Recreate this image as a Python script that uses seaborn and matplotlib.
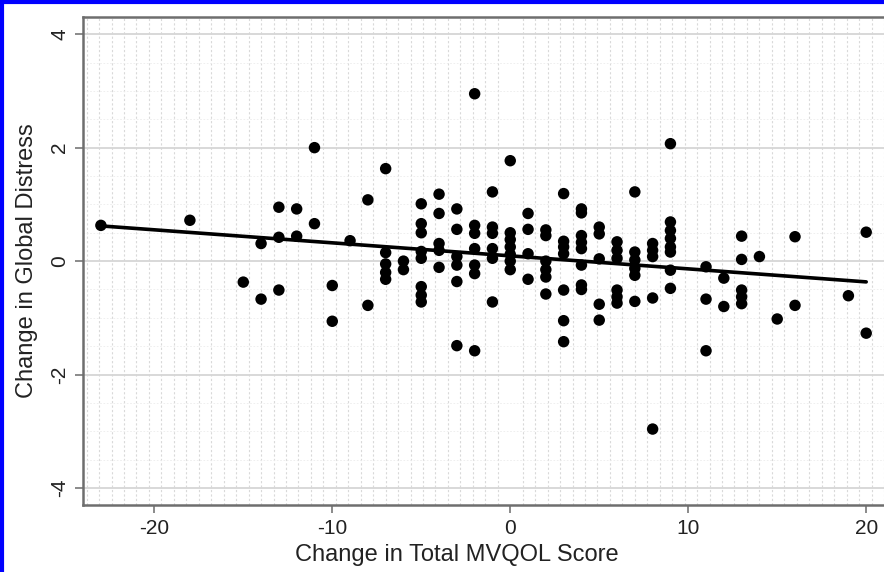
import matplotlib
matplotlib.use("Agg")
import matplotlib.pyplot as plt
from matplotlib.lines import Line2D
from matplotlib.ticker import MultipleLocator
import pandas as pd
import seaborn as sns

# change in total MVQOL score (x) and change in global distress (y)
mvqol_change = [
    -23, -18, -15, -14, -14, -13, -13, -13, -12, -12, -11, -11, -10, -10, -9, -8, -8,
    -7, -7, -7, -7, -7, -6, -6,
    -5, -5, -5, -5, -5, -5, -5, -5,
    -4, -4, -4, -4, -4,
    -3, -3, -3, -3, -3, -3,
    -2, -2, -2, -2, -2, -2, -2,
    -1, -1, -1, -1, -1, -1,
    0, 0, 0, 0, 0, 0, 0,
    1, 1, 1, 1,
    2, 2, 2, 2, 2, 2,
    3, 3, 3, 3, 3, 3, 3,
    4, 4, 4, 4, 4, 4, 4, 4,
    5, 5, 5, 5, 5,
    6, 6, 6, 6, 6, 6,
    7, 7, 7, 7, 7, 7,
    8, 8, 8, 8, 8,
    9, 9, 9, 9, 9, 9, 9, 9,
    11, 11, 11, 12, 12, 13, 13, 13, 13, 13, 14, 15, 16, 16, 19, 20, 20,
]
distress_change = [
    0.63, 0.72, -0.37, 0.31, -0.67, 0.95, 0.42, -0.51, 0.92, 0.44, 2.00, 0.66, -0.43, -1.06, 0.36, 1.08, -0.78,
    1.63, 0.15, -0.05, -0.20, -0.32, 0.00, -0.15,
    1.01, 0.66, 0.50, 0.17, 0.05, -0.45, -0.60, -0.72,
    1.18, 0.84, 0.31, 0.19, -0.11,
    0.92, 0.56, 0.08, -0.07, -0.36, -1.49,
    2.95, 0.63, 0.49, 0.22, -0.07, -0.22, -1.58,
    1.22, 0.60, 0.49, 0.22, 0.05, -0.72,
    1.77, 0.50, 0.38, 0.25, 0.12, 0.00, -0.15,
    0.84, 0.56, 0.13, -0.32,
    0.55, 0.45, 0.00, -0.15, -0.28, -0.58,
    1.19, 0.35, 0.25, 0.13, -0.51, -1.05, -1.42,
    0.92, 0.85, 0.45, 0.33, 0.22, -0.07, -0.42, -0.50,
    0.60, 0.48, 0.04, -0.76, -1.04,
    0.34, 0.19, 0.05, -0.51, -0.63, -0.74,
    1.22, 0.16, 0.02, -0.13, -0.25, -0.71,
    0.31, 0.19, 0.08, -0.65, -2.96,
    2.07, 0.69, 0.54, 0.40, 0.25, 0.16, -0.16, -0.48,
    -0.10, -0.67, -1.58, -0.30, -0.80, 0.44, 0.03, -0.51, -0.63, -0.75, 0.08, -1.02, 0.43, -0.78, -0.61, 0.51, -1.27,
]

x_ticks = [-20, -10, 0, 10, 20]
y_ticks = [-4, -2, 0, 2, 4]

sns.set_theme(style="white")
plt.rcParams["font.family"] = ["Liberation Sans", "DejaVu Sans"]

df = pd.DataFrame({"mvqol": mvqol_change, "distress": distress_change})

fig = plt.figure(figsize=(8.84, 5.72), dpi=100)
ax = fig.add_axes([0.094, 0.117, 0.906, 0.853])

sns.regplot(
    data=df, x="mvqol", y="distress", ci=None, ax=ax,
    scatter_kws={"s": 68, "color": "black", "edgecolor": "none", "alpha": 1},
    line_kws={"color": "black", "lw": 2.6},
)

ax.set_xlim(-24, 21)
ax.set_ylim(-4.3, 4.3)
ax.set_xticks(x_ticks)
ax.set_yticks(y_ticks)
ax.set_xticklabels([str(t) for t in x_ticks], fontsize=15, color="#222222")
ax.set_yticklabels([str(t) for t in y_ticks], fontsize=15, color="#222222",
                   rotation=90, va="center")

ax.xaxis.set_minor_locator(MultipleLocator(0.7))
ax.yaxis.set_minor_locator(MultipleLocator(0.5))
ax.grid(which="major", axis="y", color="#d6d6d6", lw=1.3)
ax.grid(which="minor", axis="x", color="#d9d9d9", lw=0.8, ls=(0, (2, 2)))
ax.grid(which="minor", axis="y", color="#ececec", lw=0.6, ls=(0, (2, 2)))
ax.set_axisbelow(True)

ax.tick_params(axis="both", which="major", direction="out", length=6, width=1.2,
               color="#777777", bottom=True, left=True, pad=4)
ax.tick_params(axis="both", which="minor", length=0)

for side in ["left", "bottom", "top"]:
    ax.spines[side].set_color("#6e6e6e")
    ax.spines[side].set_linewidth(1.8)
ax.spines["right"].set_visible(False)

ax.set_xlabel("Change in Total MVQOL Score", fontsize=17, color="#222222")
ax.set_ylabel("Change in Global Distress", fontsize=17, color="#222222")
ax.xaxis.set_label_coords(0.466, -0.08)
ax.yaxis.set_label_coords(-0.056, 0.5)

# blue frame on the left and top edges of the picture
fig.add_artist(Line2D([0.002, 0.002], [0, 1], color="#0000ff", lw=3, transform=fig.transFigure))
fig.add_artist(Line2D([0, 1], [0.996, 0.996], color="#0000ff", lw=3, transform=fig.transFigure))

fig.savefig("out.png", dpi=100)
